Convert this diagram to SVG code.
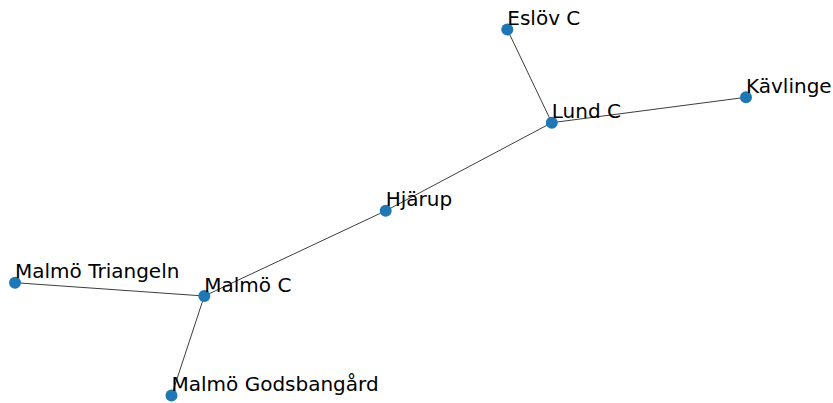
<svg xmlns="http://www.w3.org/2000/svg" width="833" height="403" viewBox="0 0 833 403">
  <style>
    .edge { stroke: #000; stroke-width: 0.9; stroke-opacity: 0.85; fill: none; }
    .node circle { fill: #1f77b4; }
    .node text { font-family: "DejaVu Sans", sans-serif; font-size: 20px; fill: #000; }
  </style>
  <rect width="833" height="403" fill="#fff"/>
  <g id="edges">
    <line class="edge" x1="507.3" y1="29.5" x2="551.8" y2="122.7"/>
    <line class="edge" x1="551.8" y1="122.7" x2="746" y2="97.3"/>
    <line class="edge" x1="551.8" y1="122.7" x2="385.7" y2="210.8"/>
    <line class="edge" x1="385.7" y1="210.8" x2="204.3" y2="296"/>
    <line class="edge" x1="204.3" y1="296" x2="15" y2="282.7"/>
    <line class="edge" x1="204.3" y1="296" x2="171.5" y2="395.5"/>
  </g>
  <g id="eslov-c" class="node"><circle cx="507.3" cy="29.5" r="6"/><text x="507.3" y="25">Eslöv C</text></g>
  <g id="lund-c" class="node"><circle cx="551.8" cy="122.7" r="6"/><text x="551.8" y="118.3">Lund C</text></g>
  <g id="kavlinge" class="node"><circle cx="746" cy="97.3" r="6"/><text x="746" y="93">Kävlinge</text></g>
  <g id="hjarup" class="node"><circle cx="385.7" cy="210.8" r="6"/><text x="385.7" y="206.3">Hjärup</text></g>
  <g id="malmo-c" class="node"><circle cx="204.3" cy="296" r="6"/><text x="204.3" y="291.6">Malmö C</text></g>
  <g id="malmo-triangeln" class="node"><circle cx="15" cy="282.7" r="6"/><text x="15" y="278.3">Malmö Triangeln</text></g>
  <g id="malmo-godsbangard" class="node"><circle cx="171.5" cy="395.5" r="6"/><text x="171.5" y="391.3">Malmö Godsbangård</text></g>
</svg>
